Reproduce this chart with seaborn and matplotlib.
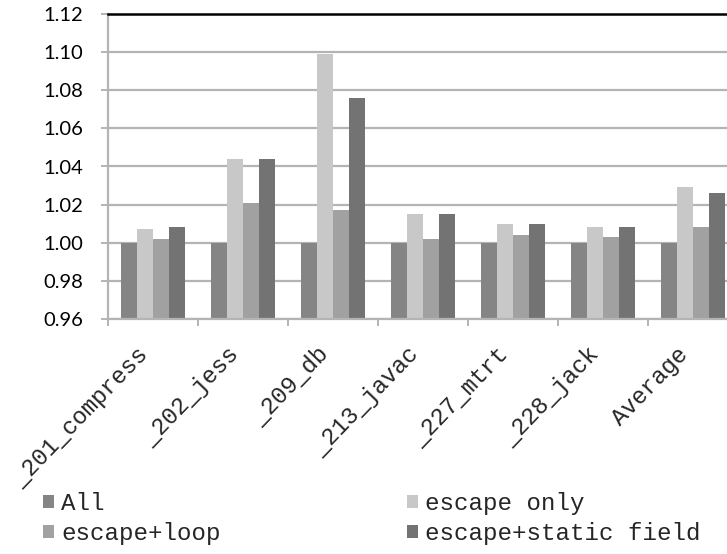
import pandas as pd
import seaborn as sns
import matplotlib.pyplot as plt
import numpy as np

benchmarks = ["_201_compress", "_202_jess", "_209_db", "_213_javac",
              "_227_mtrt", "_228_jack", "Average"]
series = ["All", "escape only", "escape+loop", "escape+static field"]

all_vals = [1.000, 1.000, 1.000, 1.000, 1.000, 1.000, 1.000]
escape_only = [1.007, 1.044, 1.099, 1.015, 1.010, 1.008, 1.029]
escape_loop = [1.002, 1.021, 1.017, 1.002, 1.004, 1.003, 1.008]
escape_static = [1.008, 1.044, 1.076, 1.015, 1.010, 1.008, 1.026]

colors = ["#858585", "#c8c8c8", "#a1a1a1", "#737373"]

df = pd.DataFrame({
    "benchmark": benchmarks * 4,
    "config": np.repeat(series, len(benchmarks)),
    "value": all_vals + escape_only + escape_loop + escape_static,
})

sns.set_theme(style="white")
grid_col = "#b4b4b4"

fig = plt.figure(figsize=(7.27, 5.54), dpi=100)
ax = fig.add_axes([108 / 727, 1 - 319 / 554, 630 / 727, 305 / 554])

sns.barplot(data=df, x="benchmark", y="value", hue="config",
            hue_order=series, palette=colors, width=0.72, gap=0,
            saturation=1, linewidth=0, ax=ax, legend=True)

ax.set_ylim(0.96, 1.12)
ax.set_xlim(-0.5, len(benchmarks) - 0.5)
ax.set_yticks(np.arange(0.96, 1.1201, 0.02))
ax.set_yticklabels([f"{v:.2f}" for v in np.arange(0.96, 1.1201, 0.02)],
                   fontfamily="Lato", fontsize=14.5, color="black")
ax.yaxis.grid(True, color=grid_col, linewidth=1.6)
ax.set_axisbelow(True)

ax.set_xticks(range(len(benchmarks)))
ax.set_xticks(np.arange(-0.5, len(benchmarks)), minor=True)
ax.set_xticklabels(benchmarks, rotation=46, ha="right", va="top",
                   fontfamily="Liberation Mono", fontsize=17)
ax.tick_params(axis="x", which="major", length=0, pad=17)
ax.tick_params(axis="x", which="minor", length=5, width=1.4,
               color=grid_col, bottom=True)
ax.tick_params(axis="y", length=5, width=1.4, color=grid_col, left=True,
               pad=13)

ax.set_xlabel("")
ax.set_ylabel("")
for side in ["left", "bottom"]:
    ax.spines[side].set_color(grid_col)
    ax.spines[side].set_linewidth(1.6)
ax.spines["top"].set_color("black")
ax.spines["top"].set_linewidth(1.8)
ax.spines["right"].set_visible(False)

# row-wise legend order: All, escape only / escape+loop, escape+static field
handles, labels = ax.get_legend_handles_labels()
ax.get_legend().remove()
order = [0, 2, 1, 3]
fig.legend([handles[i] for i in order], [labels[i] for i in order],
           loc="upper left", bbox_to_anchor=(43 / 727, 1 - 492 / 554),
           ncol=2, frameon=False,
           prop={"family": "Liberation Mono", "size": 17.4},
           handlelength=0.46, handleheight=0.46, handletextpad=0.3,
           columnspacing=7.7, labelspacing=0.3, borderpad=0,
           borderaxespad=0)

fig.savefig("out.png", dpi=100)
